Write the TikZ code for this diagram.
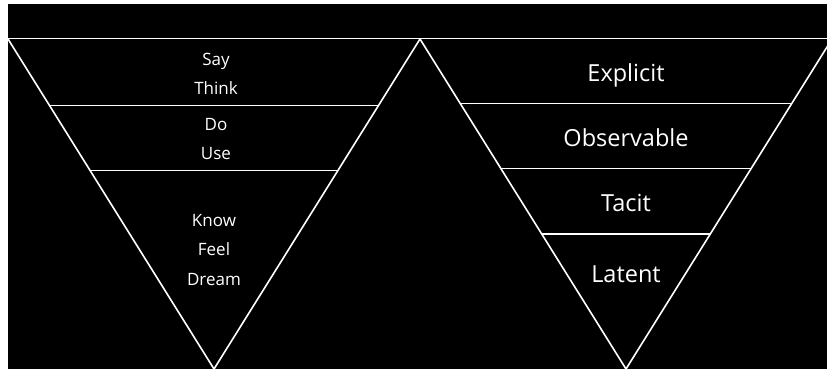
\documentclass[tikz,border=0pt]{standalone}
\usepackage{fontspec}
\setmainfont{Open Sans}
\begin{document}
\begin{tikzpicture}[x=1pt,y=-1pt,
  edge/.style={draw=white,line width=1.6pt,line join=miter},
  small/.style={text=white,font=\fontsize{17}{20}\selectfont,anchor=base,inner sep=0pt},
  big/.style={text=white,font=\fontsize{23.5}{28}\selectfont,anchor=base,inner sep=0pt}]
\useasboundingbox (0,0) rectangle (827,369);
\fill[white] (0,0) rectangle (827,369);
\fill[black] (8,4) rectangle (827,369);
\begin{scope}
\clip (8,4) rectangle (827,369);
% coordinates
\coordinate (ltl) at (8,39);
\coordinate (mid) at (420,39);
\coordinate (lap) at (214,369);
\coordinate (rap) at (626,369);
\coordinate (rtr) at (832,39);
\coordinate (topL) at (8,38.6);
\coordinate (topR) at (827,38.6);
% top line
\draw[edge] (topL) -- (topR);
% left triangle
\draw[edge] (ltl) -- (lap) -- (mid);
\draw[edge] (49.5,105.5) -- (378.5,105.5);
\draw[edge] (90.1,170.5) -- (337.9,170.5);
% right triangle
\draw[edge] (mid) -- (rap) -- (rtr);
\draw[edge] (460.3,103.5) -- (791.7,103.5);
\draw[edge] (500.8,168.5) -- (751.2,168.5);
\draw[edge] (541.7,234) -- (710.3,234);
\end{scope}
% left texts
\node[small] (say) at (216,66) {Say};
\node[small] (think) at (216,94) {Think};
\node[small] (do) at (216,130.7) {Do};
\node[small] (use) at (216,159.3) {Use};
\node[small] (know) at (214,226.7) {Know};
\node[small] (feel) at (214,255.7) {Feel};
\node[small] (dream) at (214,285.7) {Dream};
% right texts
\node[big] (explicit) at (626,81.7) {Explicit};
\node[big] (observable) at (626,146.7) {Observable};
\node[big] (tacit) at (626,211.7) {Tacit};
\node[big] (latent) at (626,282.3) {Latent};
\end{tikzpicture}
\end{document}
